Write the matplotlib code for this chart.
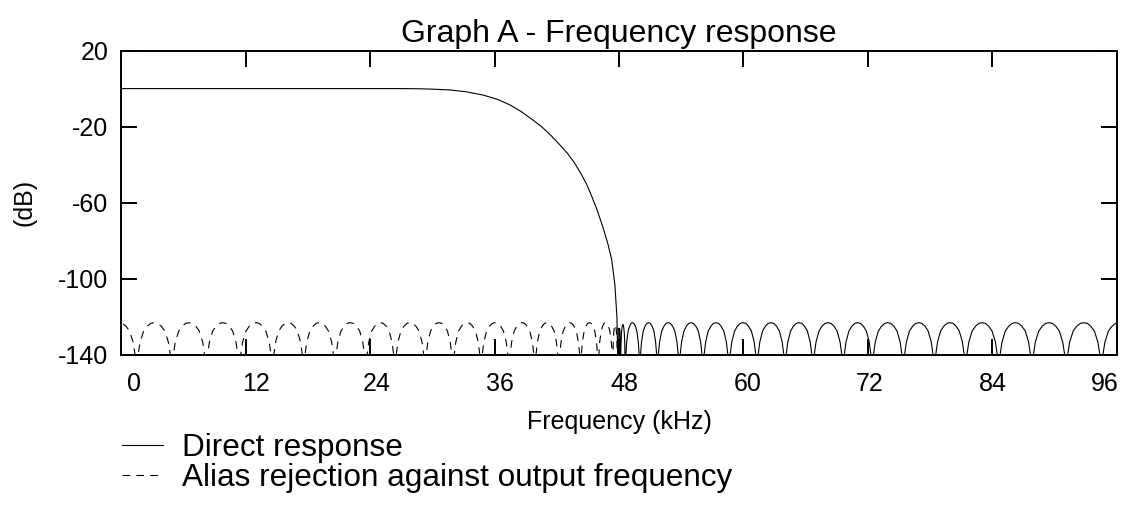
import matplotlib.pyplot as plt
from matplotlib.transforms import ScaledTranslation

plt.rcParams['font.family'] = ['Liberation Sans', 'DejaVu Sans']
plt.rcParams['axes.unicode_minus'] = False
plt.rcParams['lines.scale_dashes'] = False

# direct response: flat passband and transition band (kHz, dB)
pass_f = [0.0, 27.0, 28.8, 30.0, 31.7, 33.3, 34.9, 36.3, 37.5, 38.6, 39.7, 40.6,
          41.4, 42.2, 43.0, 43.7, 44.3, 44.9, 45.4, 45.9, 46.4, 46.9, 47.3, 47.6,
          47.8, 47.95]
pass_db = [0.0, 0.0, -0.1, -0.3, -0.7, -1.7, -3.4, -5.7, -8.6, -12.2, -16.5, -20.3,
           -24.4, -29.0, -33.8, -39.0, -44.4, -50.5, -57.0, -64.0, -72.0, -81.0, -90.0, -103.0,
           -120.0, -160.0]

# stopband: null frequencies (kHz) and the level of the lobe between each pair
null_f = [47.95, 48.15, 48.6, 50.0, 51.7, 53.8, 56.1, 58.6, 61.3, 64.0, 66.7,
          69.6, 72.4, 75.4, 78.4, 81.4, 84.6, 87.8, 91.1, 94.5, 97.9]
lobe_db = [-126, -124, -123, -123, -123, -123, -123, -123, -123, -123,
           -123, -123, -123, -123, -123, -123, -123, -123, -123, -123]

# shape of one lobe: position across the lobe and level below its peak (dB)
lobe_t = [0.0, 0.03, 0.05, 0.1, 0.2, 0.3, 0.4, 0.5, 0.6, 0.7, 0.8, 0.9, 0.95, 0.97, 1.0]
lobe_rel = [-40, -20.5, -16.0, -10.2, -4.4, -1.9, -0.4, 0.0, -0.4, -1.9, -4.4, -10.2, -16.0, -20.5, -40]

xticks = [0, 12, 24, 36, 48, 60, 72, 84, 96]
yticks = [20, -20, -60, -100, -140]
# horizontal shift of each x tick label (pixels)
xlabel_shift = [13, 10, 7, 5, 5, 4, 2, 0, -12]

# assemble the direct response
f_direct = list(pass_f)
db_direct = list(pass_db)
for i in range(len(lobe_db)):
    n0, n1 = null_f[i], null_f[i + 1]
    for t, r in zip(lobe_t, lobe_rel):
        f_direct.append(n0 + t * (n1 - n0))
        db_direct.append(lobe_db[i] + r)

# alias rejection: stopband folded about 48 kHz onto the output band
f_alias = []
db_alias = []
for f, d in zip(f_direct[len(pass_f):], db_direct[len(pass_db):]):
    f_alias.append(96 - f)
    db_alias.append(d)

fig = plt.figure(figsize=(11.27, 5.13), dpi=100)
ax = fig.add_axes([0.1074, 0.308, 0.8837, 0.5935])

l1, = ax.plot(f_direct, db_direct, color='black', lw=0.8)
l2, = ax.plot(f_alias, db_alias, color='black', lw=0.8, dashes=(5.5, 4.5))

ax.set_xlim(0, 96)
ax.set_ylim(-140, 20)
ax.set_xticks(xticks)
ax.set_xticklabels([str(v) for v in xticks])
ax.set_yticks(yticks)
ax.tick_params(direction='in', length=11.5, width=1.4, top=True, right=True,
               labelsize=18, colors='black')
ax.tick_params(axis='x', pad=12)
ax.tick_params(axis='y', pad=9)
for s in ax.spines.values():
    s.set_linewidth(1.4)

for lab, dx in zip(ax.get_xticklabels(), xlabel_shift):
    lab.set_transform(lab.get_transform() + ScaledTranslation(dx / 100, 0, fig.dpi_scale_trans))

ax.set_title("Graph A - Frequency response", fontsize=23, pad=6.5)
ax.set_xlabel("Frequency (kHz)", fontsize=18, labelpad=10)
ax.set_ylabel("(dB)", fontsize=18, labelpad=16)

fig.legend([l1, l2], ["Direct response", "Alias rejection against output frequency"],
           loc='upper left', bbox_to_anchor=(0.1083, 0.155), frameon=False,
           fontsize=22.7, handlelength=1.3, handletextpad=0.6, labelspacing=0.0,
           borderpad=0, borderaxespad=0)

plt.savefig("out.png", dpi=100)
